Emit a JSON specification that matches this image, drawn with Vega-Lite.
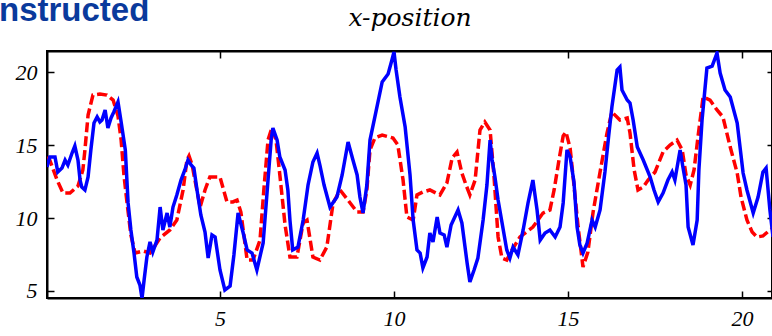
{
  "$schema": "https://vega.github.io/schema/vega-lite/v6.json",
  "width": 725,
  "height": 247,
  "autosize": {"type": "none"},
  "padding": {"left": 47, "top": 51, "right": 0, "bottom": 38},
  "background": "white",
  "title": {
    "text": "nstructed",
    "anchor": "start",
    "frame": "group",
    "font": "Liberation Sans",
    "fontWeight": "bold",
    "fontSize": 33,
    "color": "#0a3a9c",
    "baseline": "alphabetic",
    "offset": 0,
    "dx": -48,
    "dy": 49
  },
  "config": {
    "view": {"stroke": "black", "strokeWidth": 2},
    "axis": {
      "grid": false,
      "domainColor": "black",
      "domainWidth": 2,
      "tickColor": "black",
      "tickWidth": 1.5,
      "tickSize": -7,
      "labelFont": "Liberation Serif",
      "labelFontStyle": "italic",
      "labelFontSize": 22,
      "labelColor": "black",
      "labelPadding": 17
    }
  },
  "datasets": {
    "actual": [
      {"time": 0.03, "position": 14.18}, {"time": 0.11, "position": 13.97}, {"time": 0.32, "position": 12.6},
      {"time": 0.49, "position": 11.71}, {"time": 0.69, "position": 11.71}, {"time": 0.92, "position": 12.19},
      {"time": 1.06, "position": 13.29}, {"time": 1.12, "position": 14.66}, {"time": 1.21, "position": 17.05},
      {"time": 1.35, "position": 18.42}, {"time": 1.55, "position": 18.49}, {"time": 1.75, "position": 18.42},
      {"time": 1.93, "position": 18.08}, {"time": 2.07, "position": 16.99}, {"time": 2.16, "position": 15.34},
      {"time": 2.24, "position": 12.95}, {"time": 2.33, "position": 11.03}, {"time": 2.44, "position": 8.84},
      {"time": 2.56, "position": 7.6}, {"time": 2.79, "position": 7.74}, {"time": 2.99, "position": 7.6},
      {"time": 3.28, "position": 8.63}, {"time": 3.56, "position": 9.18}, {"time": 3.76, "position": 9.86},
      {"time": 3.94, "position": 11.92}, {"time": 4.05, "position": 13.97}, {"time": 4.11, "position": 14.25},
      {"time": 4.2, "position": 13.63}, {"time": 4.28, "position": 12.6}, {"time": 4.43, "position": 10.75},
      {"time": 4.57, "position": 11.92}, {"time": 4.71, "position": 12.81}, {"time": 5.0, "position": 12.81},
      {"time": 5.2, "position": 11.1}, {"time": 5.37, "position": 11.1}, {"time": 5.49, "position": 11.23},
      {"time": 5.6, "position": 10.41}, {"time": 5.78, "position": 7.12}, {"time": 5.95, "position": 7.12},
      {"time": 6.15, "position": 8.49}, {"time": 6.26, "position": 11.92}, {"time": 6.38, "position": 15.34},
      {"time": 6.49, "position": 16.16}, {"time": 6.61, "position": 15.34}, {"time": 6.72, "position": 12.95},
      {"time": 6.87, "position": 9.52}, {"time": 7.01, "position": 7.33}, {"time": 7.21, "position": 7.33},
      {"time": 7.39, "position": 9.66}, {"time": 7.5, "position": 9.86}, {"time": 7.67, "position": 7.33},
      {"time": 7.87, "position": 7.12}, {"time": 8.07, "position": 8.01}, {"time": 8.25, "position": 11.03},
      {"time": 8.45, "position": 11.92}, {"time": 8.74, "position": 11.03}, {"time": 8.94, "position": 10.41},
      {"time": 9.11, "position": 10.41}, {"time": 9.22, "position": 11.92}, {"time": 9.31, "position": 14.66},
      {"time": 9.45, "position": 15.48}, {"time": 9.66, "position": 15.68}, {"time": 9.97, "position": 15.48},
      {"time": 10.11, "position": 15.0}, {"time": 10.26, "position": 12.6}, {"time": 10.37, "position": 10.07},
      {"time": 10.55, "position": 9.86}, {"time": 10.66, "position": 11.58}, {"time": 10.83, "position": 11.78},
      {"time": 11.03, "position": 11.92}, {"time": 11.32, "position": 11.58}, {"time": 11.52, "position": 12.4},
      {"time": 11.67, "position": 14.11}, {"time": 11.81, "position": 14.52}, {"time": 11.95, "position": 13.08},
      {"time": 12.07, "position": 12.26}, {"time": 12.18, "position": 11.58}, {"time": 12.33, "position": 12.6},
      {"time": 12.47, "position": 16.03}, {"time": 12.61, "position": 16.58}, {"time": 12.76, "position": 16.03},
      {"time": 12.87, "position": 12.95}, {"time": 12.99, "position": 8.7}, {"time": 13.1, "position": 7.26},
      {"time": 13.24, "position": 7.12}, {"time": 13.39, "position": 7.81}, {"time": 13.62, "position": 8.7},
      {"time": 13.99, "position": 9.38}, {"time": 14.28, "position": 10.34}, {"time": 14.48, "position": 10.55},
      {"time": 14.6, "position": 11.92}, {"time": 14.74, "position": 13.97}, {"time": 14.86, "position": 15.62},
      {"time": 14.94, "position": 15.89}, {"time": 15.06, "position": 14.79}, {"time": 15.17, "position": 12.26},
      {"time": 15.29, "position": 9.38}, {"time": 15.43, "position": 6.64}, {"time": 15.57, "position": 7.67},
      {"time": 15.72, "position": 10.41}, {"time": 15.92, "position": 13.15}, {"time": 16.12, "position": 15.82},
      {"time": 16.26, "position": 17.26}, {"time": 16.49, "position": 16.71}, {"time": 16.7, "position": 16.85},
      {"time": 16.78, "position": 15.82}, {"time": 16.9, "position": 13.29}, {"time": 17.01, "position": 11.92},
      {"time": 17.16, "position": 12.12}, {"time": 17.3, "position": 12.6}, {"time": 17.5, "position": 13.15},
      {"time": 17.73, "position": 14.52}, {"time": 17.93, "position": 15.0}, {"time": 18.13, "position": 15.34},
      {"time": 18.28, "position": 14.66}, {"time": 18.39, "position": 12.95}, {"time": 18.51, "position": 12.26},
      {"time": 18.62, "position": 13.29}, {"time": 18.74, "position": 15.68}, {"time": 18.88, "position": 18.29},
      {"time": 19.08, "position": 18.08}, {"time": 19.28, "position": 17.4}, {"time": 19.45, "position": 16.92},
      {"time": 19.66, "position": 14.86}, {"time": 19.86, "position": 13.08}, {"time": 19.97, "position": 11.44},
      {"time": 20.14, "position": 9.86}, {"time": 20.29, "position": 9.04}, {"time": 20.43, "position": 8.7},
      {"time": 20.6, "position": 8.77}, {"time": 20.8, "position": 9.18}, {"time": 20.89, "position": 9.32}
    ],
    "reconstructed": [
      {"time": 0.03, "position": 13.49}, {"time": 0.11, "position": 14.18}, {"time": 0.26, "position": 14.18},
      {"time": 0.34, "position": 13.15}, {"time": 0.46, "position": 13.42}, {"time": 0.55, "position": 13.97},
      {"time": 0.63, "position": 13.63}, {"time": 0.75, "position": 14.45}, {"time": 0.83, "position": 14.93},
      {"time": 0.92, "position": 13.97}, {"time": 0.98, "position": 12.6}, {"time": 1.03, "position": 12.12},
      {"time": 1.12, "position": 11.92}, {"time": 1.21, "position": 12.81}, {"time": 1.29, "position": 14.66},
      {"time": 1.38, "position": 16.51}, {"time": 1.47, "position": 16.92}, {"time": 1.55, "position": 16.58},
      {"time": 1.61, "position": 16.71}, {"time": 1.7, "position": 17.4}, {"time": 1.78, "position": 16.16},
      {"time": 1.87, "position": 16.85}, {"time": 1.95, "position": 17.26}, {"time": 2.07, "position": 17.95},
      {"time": 2.16, "position": 16.58}, {"time": 2.28, "position": 14.66}, {"time": 2.36, "position": 11.03},
      {"time": 2.44, "position": 9.18}, {"time": 2.53, "position": 7.6}, {"time": 2.61, "position": 5.96},
      {"time": 2.7, "position": 5.41}, {"time": 2.76, "position": 4.5}, {"time": 2.82, "position": 5.75},
      {"time": 2.9, "position": 7.33}, {"time": 2.99, "position": 8.36}, {"time": 3.07, "position": 7.67},
      {"time": 3.19, "position": 8.49}, {"time": 3.28, "position": 10.75}, {"time": 3.36, "position": 9.18},
      {"time": 3.48, "position": 10.34}, {"time": 3.56, "position": 9.38}, {"time": 3.65, "position": 10.75},
      {"time": 3.76, "position": 11.58}, {"time": 3.88, "position": 12.6}, {"time": 3.99, "position": 13.29},
      {"time": 4.08, "position": 13.97}, {"time": 4.17, "position": 13.63}, {"time": 4.25, "position": 13.42},
      {"time": 4.34, "position": 11.92}, {"time": 4.45, "position": 10.21}, {"time": 4.57, "position": 9.04},
      {"time": 4.66, "position": 7.26}, {"time": 4.77, "position": 8.84}, {"time": 4.86, "position": 8.7},
      {"time": 5.0, "position": 6.44}, {"time": 5.14, "position": 5.07}, {"time": 5.29, "position": 5.34},
      {"time": 5.4, "position": 7.47}, {"time": 5.52, "position": 10.34}, {"time": 5.66, "position": 9.04},
      {"time": 5.78, "position": 7.81}, {"time": 5.92, "position": 7.6}, {"time": 6.06, "position": 6.44},
      {"time": 6.24, "position": 8.29}, {"time": 6.38, "position": 12.6}, {"time": 6.47, "position": 15.34},
      {"time": 6.52, "position": 16.16}, {"time": 6.64, "position": 15.34}, {"time": 6.72, "position": 14.18},
      {"time": 6.87, "position": 13.29}, {"time": 6.95, "position": 11.92}, {"time": 7.01, "position": 9.86},
      {"time": 7.09, "position": 7.81}, {"time": 7.24, "position": 8.01}, {"time": 7.39, "position": 9.86},
      {"time": 7.53, "position": 12.26}, {"time": 7.67, "position": 13.84}, {"time": 7.79, "position": 14.45},
      {"time": 7.87, "position": 13.63}, {"time": 7.99, "position": 12.26}, {"time": 8.16, "position": 10.75},
      {"time": 8.36, "position": 11.44}, {"time": 8.51, "position": 12.95}, {"time": 8.68, "position": 15.21},
      {"time": 8.82, "position": 13.97}, {"time": 8.94, "position": 12.95}, {"time": 9.02, "position": 11.44},
      {"time": 9.11, "position": 10.34}, {"time": 9.22, "position": 12.26}, {"time": 9.31, "position": 15.34},
      {"time": 9.45, "position": 16.92}, {"time": 9.66, "position": 19.32}, {"time": 9.83, "position": 19.86},
      {"time": 9.94, "position": 20.82}, {"time": 10.0, "position": 21.37}, {"time": 10.06, "position": 20.14},
      {"time": 10.17, "position": 18.29}, {"time": 10.32, "position": 16.23}, {"time": 10.46, "position": 12.95},
      {"time": 10.55, "position": 9.86}, {"time": 10.66, "position": 7.81}, {"time": 10.75, "position": 7.6},
      {"time": 10.83, "position": 6.58}, {"time": 10.95, "position": 7.33}, {"time": 11.03, "position": 8.97},
      {"time": 11.12, "position": 8.36}, {"time": 11.24, "position": 10.07}, {"time": 11.32, "position": 8.97},
      {"time": 11.44, "position": 8.84}, {"time": 11.52, "position": 8.01}, {"time": 11.64, "position": 9.52},
      {"time": 11.84, "position": 10.55}, {"time": 11.95, "position": 9.66}, {"time": 12.1, "position": 6.92},
      {"time": 12.18, "position": 5.62}, {"time": 12.3, "position": 6.44}, {"time": 12.41, "position": 7.26},
      {"time": 12.56, "position": 9.86}, {"time": 12.67, "position": 12.26}, {"time": 12.76, "position": 15.34},
      {"time": 12.82, "position": 13.97}, {"time": 12.9, "position": 12.81}, {"time": 12.99, "position": 11.23},
      {"time": 13.1, "position": 9.73}, {"time": 13.24, "position": 7.81}, {"time": 13.33, "position": 7.26},
      {"time": 13.42, "position": 8.01}, {"time": 13.56, "position": 7.47}, {"time": 13.71, "position": 9.18},
      {"time": 13.85, "position": 11.03}, {"time": 13.99, "position": 12.6}, {"time": 14.11, "position": 10.55},
      {"time": 14.2, "position": 8.49}, {"time": 14.34, "position": 8.97}, {"time": 14.48, "position": 9.18},
      {"time": 14.63, "position": 8.7}, {"time": 14.77, "position": 9.38}, {"time": 14.86, "position": 11.03},
      {"time": 14.97, "position": 14.66}, {"time": 15.06, "position": 14.18}, {"time": 15.17, "position": 12.47},
      {"time": 15.26, "position": 9.38}, {"time": 15.34, "position": 8.15}, {"time": 15.43, "position": 7.6},
      {"time": 15.55, "position": 8.29}, {"time": 15.69, "position": 9.86}, {"time": 15.78, "position": 9.38},
      {"time": 15.92, "position": 10.55}, {"time": 16.06, "position": 13.15}, {"time": 16.17, "position": 15.68},
      {"time": 16.26, "position": 17.6}, {"time": 16.41, "position": 20.14}, {"time": 16.49, "position": 20.34},
      {"time": 16.55, "position": 18.77}, {"time": 16.7, "position": 18.08}, {"time": 16.78, "position": 17.88},
      {"time": 16.87, "position": 16.71}, {"time": 16.99, "position": 14.86}, {"time": 17.16, "position": 13.97},
      {"time": 17.36, "position": 12.81}, {"time": 17.47, "position": 11.92}, {"time": 17.59, "position": 11.1},
      {"time": 17.73, "position": 11.71}, {"time": 17.87, "position": 12.6}, {"time": 17.99, "position": 13.15},
      {"time": 18.07, "position": 12.6}, {"time": 18.22, "position": 14.66}, {"time": 18.3, "position": 13.49},
      {"time": 18.39, "position": 12.26}, {"time": 18.45, "position": 9.38}, {"time": 18.59, "position": 8.15},
      {"time": 18.71, "position": 9.86}, {"time": 18.76, "position": 13.29}, {"time": 18.85, "position": 16.71},
      {"time": 18.99, "position": 20.27}, {"time": 19.14, "position": 20.41}, {"time": 19.28, "position": 21.3},
      {"time": 19.37, "position": 19.93}, {"time": 19.51, "position": 18.77}, {"time": 19.66, "position": 18.29},
      {"time": 19.86, "position": 16.51}, {"time": 20.03, "position": 13.08}, {"time": 20.14, "position": 11.92},
      {"time": 20.32, "position": 10.34}, {"time": 20.46, "position": 11.44}, {"time": 20.6, "position": 13.15},
      {"time": 20.69, "position": 13.42}, {"time": 20.8, "position": 10.55}, {"time": 20.89, "position": 8.7}
    ]
  },
  "layer": [
    {
      "data": {"name": "actual"},
      "mark": {"type": "line", "color": "#ff0000", "strokeWidth": 3.5, "strokeDash": [10, 4], "clip": true},
      "encoding": {
        "x": {
          "field": "time", "type": "quantitative",
          "scale": {"domain": [0.03, 20.86], "nice": false, "zero": false},
          "axis": {"orient": "bottom", "values": [5, 10, 15, 20], "title": null}
        },
        "y": {
          "field": "position", "type": "quantitative",
          "scale": {"domain": [4.52, 21.44], "nice": false, "zero": false},
          "axis": {"orient": "left", "values": [5, 10, 15, 20], "title": null}
        }
      }
    },
    {
      "data": {"name": "reconstructed"},
      "mark": {"type": "line", "color": "#0000ff", "strokeWidth": 3.5, "clip": true},
      "encoding": {
        "x": {
          "field": "time", "type": "quantitative",
          "axis": {
            "orient": "top", "values": [5, 10, 15, 20], "labels": false,
            "title": "x-position",
            "titleFont": "DejaVu Serif", "titleFontStyle": "italic", "titleFontWeight": "normal",
            "titleFontSize": 25, "titleColor": "black",
            "titleY": -26, "titleBaseline": "alphabetic"
          }
        },
        "y": {
          "field": "position", "type": "quantitative",
          "axis": {"orient": "right", "values": [5, 10, 15, 20], "labels": false, "title": null, "tickSize": -5}
        }
      }
    }
  ],
  "resolve": {"axis": {"x": "independent", "y": "independent"}}
}
